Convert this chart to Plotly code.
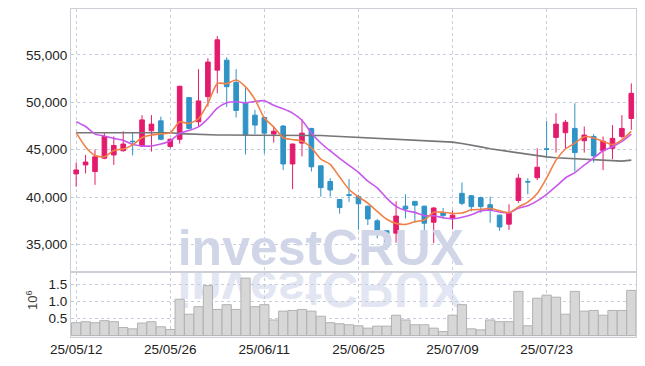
import plotly.graph_objects as go
import base64

# ---------------- data ----------------
dates = ["25/05/12", "25/05/13", "25/05/14", "25/05/15", "25/05/16", "25/05/19", "25/05/20", "25/05/21", "25/05/22", "25/05/23",
         "25/05/26", "25/05/27", "25/05/28", "25/05/29", "25/05/30", "25/06/02", "25/06/04", "25/06/05", "25/06/09", "25/06/10",
         "25/06/11", "25/06/12", "25/06/13", "25/06/16", "25/06/17", "25/06/18", "25/06/19", "25/06/20", "25/06/23", "25/06/24",
         "25/06/25", "25/06/26", "25/06/27", "25/06/30", "25/07/01", "25/07/02", "25/07/03", "25/07/04", "25/07/07", "25/07/08",
         "25/07/09", "25/07/10", "25/07/11", "25/07/14", "25/07/15", "25/07/16", "25/07/17", "25/07/18", "25/07/21", "25/07/22",
         "25/07/23", "25/07/24", "25/07/25", "25/07/28", "25/07/29", "25/07/30", "25/07/31", "25/08/01", "25/08/04", "25/08/05"]

open_ = [42450, 43400, 42700, 44100, 44450, 44900, 45900, 45400, 47000, 48050,
         45350, 46100, 50500, 47950, 50600, 53400, 54450, 52100, 50000, 48650,
         48400, 46650, 47500, 43500, 45700, 47250, 43300, 41650, 39750, 40250,
         40050, 39050, 37500, 36450, 36200, 39050, 39550, 39050, 37350, 38350,
         37750, 40400, 40150, 39950, 39200, 38100, 37150, 39650, 41650, 42050,
         45100, 46300, 46800, 47250, 45950, 46400, 44900, 45150, 46400, 48300]
high = [43650, 44450, 45000, 46750, 46400, 46950, 46780, 48650, 48650, 48500,
        46200, 51750, 50550, 53500, 54650, 57000, 54750, 53500, 51500, 49200,
        48500, 47450, 47600, 45650, 48200, 47300, 43350, 42000, 39800, 41900,
        40250, 39100, 37700, 36500, 39550, 40300, 39600, 39100, 38950, 38850,
        38600, 41550, 40200, 40050, 40050, 38150, 39250, 42450, 42000, 45150,
        48050, 48850, 48150, 49900, 47450, 46650, 46400, 47600, 48650, 52000]
low = [41100, 42500, 41300, 44000, 43400, 44800, 44400, 45300, 44800, 46000,
       45150, 45650, 47150, 47500, 49550, 50950, 49500, 48400, 44500, 46650,
       44600, 45750, 42850, 40850, 44300, 42700, 40050, 40050, 38250, 39500,
       36550, 37050, 35650, 34450, 35200, 37750, 37300, 36200, 35150, 37750,
       36600, 39150, 38500, 38350, 37300, 36450, 36550, 39400, 40300, 41800,
       44100, 44700, 45150, 42700, 44700, 43650, 42850, 44000, 46200, 47100]
close = [42870, 43700, 44250, 46400, 45450, 45600, 45850, 48150, 47700, 46100,
         46100, 51700, 47250, 50150, 54250, 56600, 51650, 49150, 46550, 47600,
         46750, 46950, 43500, 45600, 46750, 43200, 41000, 40750, 38900, 40200,
         39300, 37700, 36350, 34800, 38000, 38750, 39150, 37250, 38850, 38050,
         38100, 39350, 39000, 39000, 38650, 36850, 38300, 42000, 41600, 43150,
         45050, 47700, 47900, 44700, 46550, 44350, 45900, 46200, 47250, 50950]

ma5 = [46800, 45300, 44400, 44250, 44930, 45080, 45510, 46290, 46550, 46680,
       46780, 47950, 47770, 48260, 49890, 51990, 51980, 52360, 51640, 50310,
       48340, 47400, 46270, 46080, 45910, 45200, 44010, 43460, 42120, 40810,
       40030, 39370, 38490, 37670, 37230, 37120, 37410, 37590, 38400, 38410,
       38280, 38320, 38670, 38700, 38820, 38570, 38360, 38960, 39480, 40380,
       42020, 43900, 45080, 45700, 46380, 46240, 45880, 45540, 46050, 46930]
ma10 = [47950, 47450, 46650, 46450, 46200, 46000, 45550, 45400, 45400, 45610,
        45930, 46730, 47030, 47410, 48290, 49390, 49970, 50070, 49950, 50100,
        50170, 49690, 49320, 48860, 48110, 46770, 45710, 44870, 44100, 43360,
        42620, 41690, 40980, 39900, 39020, 38580, 38390, 38040, 38040, 37820,
        37700, 37870, 38130, 38550, 38620, 38430, 38340, 38820, 39090, 39600,
        40300, 41130, 42020, 42590, 43380, 44130, 44890, 45310, 45880, 46660]
ma_long = [46800, 46800, 46800, 46850, 46850, 46850, 46850, 46850, 46850, 46850,
           46800, 46700, 46650, 46600, 46550, 46550, 46550, 46550, 46550, 46550,
           46550, 46550, 46550, 46550, 46550, 46500, 46500, 46450, 46400, 46350,
           46300, 46250, 46200, 46150, 46100, 46050, 46000, 45950, 45900, 45850,
           45800, 45650, 45500, 45300, 45100, 44950, 44800, 44650, 44500, 44350,
           44250, 44150, 44100, 44050, 44000, 43950, 43850, 43800, 43800, 43900]

volume_m = [0.38, 0.41, 0.38, 0.44, 0.41, 0.24, 0.20, 0.37, 0.41, 0.26,
            0.18, 1.07, 0.63, 0.85, 1.47, 0.77, 0.91, 0.77, 1.69, 0.85,
            0.91, 0.46, 0.72, 0.74, 0.77, 0.72, 0.57, 0.38, 0.35, 0.32,
            0.29, 0.22, 0.28, 0.28, 0.60, 0.46, 0.32, 0.32, 0.22, 0.12,
            0.60, 0.91, 0.20, 0.17, 0.46, 0.41, 0.41, 1.30, 0.29, 1.10,
            1.19, 1.13, 0.63, 1.30, 0.72, 0.74, 0.60, 0.74, 0.74, 1.33]

x_ticks = ["25/05/12", "25/05/26", "25/06/11", "25/06/25", "25/07/09", "25/07/23"]
price_ticks = [35000, 40000, 45000, 50000, 55000]
vol_ticks = [0.5, 1.0, 1.5]
vol_tick_text = ["0.5", "1.0", "1.5"]

watermark = "investCRUX"
wm_x = "25/06/19"
wm_y = 34150

# ---------------- styling ----------------
RED = "#e41b6c"
BLUE = "#2f93c6"
GRID = "rgb(200,205,222)"
BORDER = "rgb(205,207,214)"
TICKFONT = dict(family="Liberation Sans, Arial, sans-serif", size=13.5, color="#222222")

fig = go.Figure()

fig.add_trace(go.Scatter(
    x=[wm_x], y=[wm_y], mode="text", text=[watermark],
    textfont=dict(family="Liberation Sans, Arial, sans-serif", size=50, color="rgb(208,214,232)", weight="bold"),
    textposition="middle center", hoverinfo="skip", showlegend=False,
    xaxis="x2", yaxis="y2", cliponaxis=True))

fig.add_trace(go.Candlestick(
    x=dates, open=open_, high=high, low=low, close=close,
    increasing=dict(line=dict(color=RED, width=1), fillcolor=RED),
    decreasing=dict(line=dict(color=BLUE, width=1), fillcolor=BLUE),
    whiskerwidth=0, showlegend=False, xaxis="x2", yaxis="y2"))

fig.add_trace(go.Scatter(x=dates, y=ma_long, mode="lines", line=dict(color="rgb(118,118,118)", width=1.6),
                         showlegend=False, xaxis="x2", yaxis="y2"))
fig.add_trace(go.Scatter(x=dates, y=ma10, mode="lines", line=dict(color="rgb(200,88,236)", width=1.6, shape="spline", smoothing=0.6),
                         showlegend=False, xaxis="x2", yaxis="y2"))
fig.add_trace(go.Scatter(x=dates, y=ma5, mode="lines", line=dict(color="rgb(240,128,70)", width=1.6, shape="spline", smoothing=0.6),
                         showlegend=False, xaxis="x2", yaxis="y2"))

fig.add_trace(go.Bar(x=dates, y=volume_m, marker=dict(color="rgb(215,215,215)", line=dict(color="rgb(178,178,178)", width=1)),
                     showlegend=False, xaxis="x", yaxis="y"))

# reflection of the watermark (decorative image)
svg = (
    '<svg xmlns="http://www.w3.org/2000/svg" width="300" height="70" viewBox="0 0 300 70">'
    '<g transform="translate(0,3) scale(1,-1)">'
    '<text x="150.5" y="0" text-anchor="middle" font-family="Liberation Sans, Arial, sans-serif" '
    'font-weight="bold" font-size="50" fill="rgb(226,229,242)">investCRUX</text></g>'
    '</svg>')
src = "data:image/svg+xml;base64," + base64.b64encode(svg.encode()).decode()

W, H = 645, 366
L, R, T, B = 71, 9, 9, 29
pw, ph = W - L - R, H - T - B
split = (337 - 272) / ph

fig.add_layout_image(dict(source=src, xref="paper", yref="paper",
                          x=(170 - L) / pw, y=(337 - 269) / ph, sizex=300 / pw, sizey=70 / ph,
                          xanchor="left", yanchor="top", sizing="stretch", layer="below"))

axis_common = dict(showgrid=True, gridcolor=GRID, griddash="dot", gridwidth=1, automargin=False,
                   showline=True, linecolor=BORDER, linewidth=1, mirror=True, ticks="", zeroline=False)

fig.update_layout(
    width=W, height=H,
    margin=dict(l=L, r=R, t=T, b=B),
    paper_bgcolor="white", plot_bgcolor="rgba(0,0,0,0)",
    showlegend=False, bargap=0.02, hovermode=False,
    xaxis=dict(domain=[0, 1], anchor="y", type="category", categoryorder="array", categoryarray=dates,
               range=[-0.55, 59.5], tickmode="array", tickvals=x_ticks, ticktext=x_ticks,
               tickfont=TICKFONT, **axis_common),
    xaxis2=dict(domain=[0, 1], anchor="y2", type="category", categoryorder="array", categoryarray=dates,
                range=[-0.55, 59.5], showticklabels=False,
                tickmode="array", tickvals=x_ticks, rangeslider=dict(visible=False), **axis_common),
    yaxis=dict(domain=[0, split], anchor="x", range=[-0.04, 1.87], tickmode="array",
               tickvals=vol_ticks, ticktext=vol_tick_text, tickfont=TICKFONT, **axis_common),
    yaxis2=dict(domain=[split, 1], anchor="x2", range=[32100, 59850], tickmode="array",
                tickvals=price_ticks, tickformat=",d", tickfont=TICKFONT, **axis_common),
    annotations=[dict(text="10<sup>6</sup>", xref="paper", yref="paper", x=(32 - L) / pw, y=(337 - 300) / ph,
                      xanchor="center", yanchor="middle",
                      showarrow=False, textangle=-90, font=dict(family="Liberation Sans, Arial, sans-serif", size=13, color="#444"))],
)

fig.write_html("out.html", config={"displayModeBar": False},
               post_script="document.body.style.margin='0px';")
